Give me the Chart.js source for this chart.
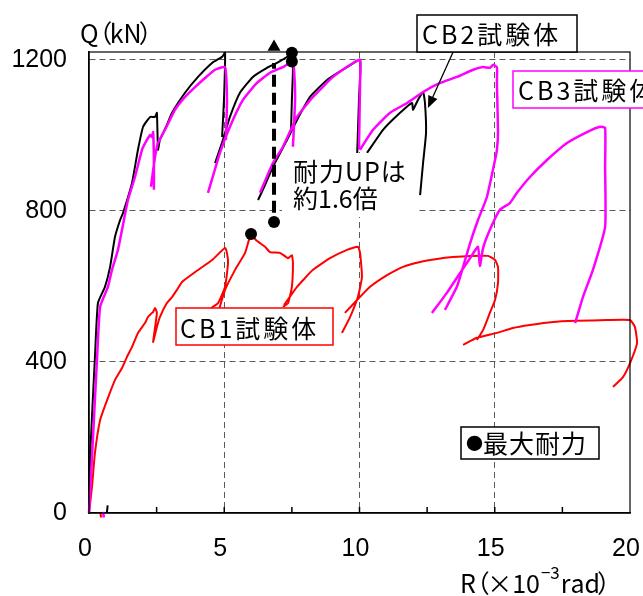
<!DOCTYPE html>
<html>
<head>
<meta charset="utf-8">
<script src="https://cdn.jsdelivr.net/npm/chart.js@4.4.1/dist/chart.umd.min.js"></script>
<style>
  html, body { margin: 0; padding: 0; background: #fff; }
</style>
</head>
<body>
<canvas id="loadChart" width="643" height="596"></canvas>
<script>
// axis ticks
const xTicks = [0, 5, 10, 15, 20];
const xMinor = [2.5, 5, 7.5, 10, 12.5, 15, 17.5];
const yTicks = [0, 400, 800, 1200];

// R (x10^-3 rad), Q (kN) -- each inner list is one visible branch of the loop
const cb2Curve = [
    [[0, 0], [0.04, 148], [0.22, 413], [0.33, 556], [0.59, 599], [0.78, 652], [0.96, 731], [1.15, 776], [1.26, 795],
     [1.59, 874], [1.81, 962], [2.0, 1023], [2.26, 1049], [2.44, 1049], [2.51, 1060], [2.55, 962], [2.62, 988],
     [2.85, 1023], [3.07, 1060], [3.55, 1113], [4.03, 1155], [4.55, 1192], [4.92, 1208], [5.03, 1219], [4.99, 1094], [4.92, 996]],
    [[4.66, 927], [4.95, 988], [5.21, 1049], [5.58, 1113], [6.06, 1155], [6.58, 1179], [6.95, 1192], [7.43, 1213],
     [7.5, 1219], [7.54, 1174], [7.5, 1094], [7.47, 1015]],
    [[6.25, 829], [6.51, 869], [6.8, 917], [7.32, 988], [7.69, 1041], [8.17, 1102], [8.8, 1147], [9.54, 1181],
     [10.02, 1200], [9.98, 1094], [9.91, 943]],
    [[10.28, 954], [10.87, 1015], [11.5, 1060], [11.94, 1086], [11.98, 1068], [12.16, 1094], [12.35, 1115],
     [12.42, 1086], [12.46, 1007], [12.35, 927], [12.24, 842]],
    [[0.69, 20], [0.66, 0]]
];

const cb3Curve = [
    [[0, 0], [0.11, 148], [0.3, 413], [0.41, 546], [0.7, 599], [0.85, 644], [1.07, 697], [1.22, 750], [1.44, 829],
     [1.7, 890], [1.96, 962], [2.14, 988], [2.26, 1001], [2.33, 996], [2.37, 1009], [2.4, 935], [2.4, 856]],
    [[2.29, 864], [2.44, 943], [2.55, 980], [2.81, 1015], [3.18, 1068], [3.55, 1102], [3.92, 1128], [4.29, 1152],
     [4.66, 1174], [5.03, 1181], [5.1, 1094], [5.06, 988]],
    [[4.4, 848], [4.84, 954], [5.21, 1023], [5.69, 1094], [6.21, 1139], [6.69, 1166], [7.17, 1181], [7.54, 1195],
     [7.62, 1102], [7.54, 970]],
    [[6.32, 848], [6.8, 927], [7.17, 970], [7.69, 1049], [8.28, 1102], [9.02, 1155], [9.76, 1192], [10.02, 1200],
     [10.02, 1139], [9.98, 962]],
    [[10.02, 962], [10.5, 1015], [11.13, 1060], [11.76, 1086], [12.35, 1115], [12.98, 1139], [13.6, 1155],
     [14.2, 1174], [14.57, 1181], [14.82, 1179], [14.94, 1187], [15.08, 1181], [15.08, 1139], [15.12, 1007],
     [15.08, 962], [15.01, 935], [14.71, 837], [14.38, 776], [14.09, 715], [13.83, 652], [13.6, 599], [13.16, 538]],
    [[12.68, 530], [13.23, 583], [13.72, 636], [14.09, 675], [14.38, 705], [14.45, 654], [14.57, 702], [14.82, 750],
     [15.19, 803], [15.56, 821], [15.82, 848], [16.3, 890], [16.93, 935], [17.67, 980], [18.41, 1009], [18.89, 1023],
     [19.08, 1020], [19.08, 917], [19.08, 758], [18.63, 644], [18.26, 572], [17.97, 503]],
    [[0.52, 3], [0.55, -12]]
];

const cb1Curve = [
    [[0, 0], [0.11, 69], [0.22, 159], [0.41, 246], [0.67, 299], [0.96, 352], [1.22, 384], [1.4, 413], [1.59, 440],
     [1.81, 477], [2.07, 503], [2.18, 519], [2.33, 530], [2.37, 532], [2.44, 543], [2.51, 530], [2.37, 453],
     [2.51, 493], [2.62, 519], [2.88, 556], [3.07, 572], [3.25, 591], [3.44, 612], [3.92, 638], [4.55, 670],
     [5.03, 702], [5.1, 689], [5.14, 662], [5.03, 599], [4.77, 556], [4.51, 543]],
    [[4.81, 540], [5.03, 591], [5.4, 644], [5.77, 689], [5.99, 739], [6.17, 723], [6.51, 705], [6.69, 691],
     [7.06, 689], [7.36, 675], [7.5, 683], [7.54, 662], [7.5, 599], [7.36, 556], [7.17, 546]],
    [[7.21, 551], [7.69, 599], [8.28, 644], [8.91, 675], [9.54, 697], [9.94, 705], [10.02, 689], [10.09, 625],
     [9.94, 572], [9.65, 519], [9.35, 477]],
    [[9.46, 530], [9.91, 564], [10.39, 599], [11.02, 630], [11.61, 652], [12.24, 665], [12.87, 673], [13.46, 678],
     [14.09, 681], [14.75, 681], [15.01, 670], [15.12, 652], [15.12, 609], [15.01, 564], [14.82, 530], [14.57, 485],
     [14.34, 458]],
    [[13.83, 445], [14.34, 464], [15.08, 477], [15.67, 490], [16.3, 498], [17.15, 506], [18.04, 509], [19.15, 511],
     [20.0, 511], [20.18, 493], [20.26, 450], [20.0, 397], [19.74, 360], [19.37, 334]],
    [[0.42, 0], [0.45, -12]]
];

// 最大耐力 markers and the "耐力UP" arrow
const maxPoints = [[7.5, 1219], [7.5, 1196], [5.99, 739]];
const upBase = [6.84, 771];
const upLine = [[6.84, 795], [6.84, 1192]];
const upTip = [6.84, 1234];

const toPts = (segs) => segs.flatMap(s =>
    s.map(([x, y]) => ({x, y})).concat([{x: s[s.length - 1][0], y: null}]));
const xy = (arr) => arr.map(([x, y]) => ({x, y}));

const JP = '"Noto Sans CJK JP", "Noto Sans", sans-serif';

// draw text char by char, narrowing full width brackets
function drawChars(ctx, text, x, y, spacing) {
    for (const ch of text) {
        const w = ctx.measureText(ch).width;
        if (ch === '（') {
            ctx.fillText(ch, x - w * 0.45, y);
            x += w * 0.45 + spacing;
        } else if (ch === '）') {
            ctx.fillText(ch, x - w * 0.12, y);
            x += w * 0.42 + spacing;
        } else {
            ctx.fillText(ch, x, y);
            x += w + spacing;
        }
    }
    return x;
}

function labelBox(ctx, text, bx, by, bw, bh, color, tx, ty, spacing) {
    ctx.fillStyle = '#fff';
    ctx.fillRect(bx, by, bw, bh);
    ctx.strokeStyle = color;
    ctx.lineWidth = 1.5;
    ctx.strokeRect(bx, by, bw, bh);
    ctx.fillStyle = '#000';
    return drawChars(ctx, text, tx, ty, spacing);
}

const notes = {
    id: 'notes',
    afterDraw(chart) {
        const {ctx, chartArea: a, scales: {x, y}} = chart;
        ctx.save();

        // plot frame
        ctx.strokeStyle = '#000';
        ctx.lineWidth = 1.2;
        ctx.strokeRect(a.left, a.top, a.right - a.left, a.bottom - a.top);

        // inner tick marks on the R axis
        ctx.lineWidth = 1.5;
        ctx.beginPath();
        xMinor.forEach(v => {
            const px = x.getPixelForValue(v);
            ctx.moveTo(px, a.bottom);
            ctx.lineTo(px, a.bottom - 6);
        });
        ctx.stroke();

        ctx.textBaseline = 'middle';
        ctx.textAlign = 'left';
        ctx.font = '25px ' + JP;
        ctx.fillStyle = '#000';

        // axis titles
        drawChars(ctx, 'Q（kN）', 80, 33, 0);
        let cx = drawChars(ctx, 'R（×10', 460, 583, 0);
        ctx.font = '17px ' + JP;
        cx = drawChars(ctx, '−3', cx + 1, 573, 0);
        ctx.font = '25px ' + JP;
        drawChars(ctx, 'rad）', cx + 1, 583, 0);

        // 耐力UP note
        ctx.fillStyle = '#fff';
        ctx.fillRect(282, 153, 136, 64);
        ctx.fillStyle = '#000';
        drawChars(ctx, '耐力UPは', 293, 171, 1);
        drawChars(ctx, '約1.6倍', 293, 198, 0);

        // specimen labels
        labelBox(ctx, 'CB2試験体', 417, 15, 160, 37, '#000', 422, 34, 3);
        labelBox(ctx, 'CB3試験体', 513, 71, 140, 37, '#ff00ff', 518, 90, 3);
        labelBox(ctx, 'CB1試験体', 176, 308, 157, 37, '#ff0000', 180, 328, 3);

        // legend box for the markers
        ctx.fillStyle = '#fff';
        ctx.fillRect(461, 427, 138, 32);
        ctx.strokeStyle = '#000';
        ctx.lineWidth = 1.5;
        ctx.strokeRect(461, 427, 138, 32);
        ctx.fillStyle = '#000';
        ctx.font = '17px ' + JP;
        cx = drawChars(ctx, '●', 466, 444, 0);
        ctx.font = '25px ' + JP;
        drawChars(ctx, '最大耐力', cx, 443, 1);

        // leader arrow from the CB2 label
        const p0 = [x.getPixelForValue(13.46), y.getPixelForValue(1221)];
        const p1 = [x.getPixelForValue(12.53), y.getPixelForValue(1073)];
        const ang = Math.atan2(p1[1] - p0[1], p1[0] - p0[0]);
        ctx.strokeStyle = '#000';
        ctx.lineWidth = 1.3;
        ctx.beginPath();
        ctx.moveTo(p0[0], p0[1]);
        ctx.lineTo(p1[0] - Math.cos(ang) * 8, p1[1] - Math.sin(ang) * 8);
        ctx.stroke();
        ctx.fillStyle = '#000';
        ctx.beginPath();
        ctx.moveTo(p1[0], p1[1]);
        ctx.lineTo(p1[0] - Math.cos(ang) * 12 + Math.sin(ang) * 5, p1[1] - Math.sin(ang) * 12 - Math.cos(ang) * 5);
        ctx.lineTo(p1[0] - Math.cos(ang) * 12 - Math.sin(ang) * 5, p1[1] - Math.sin(ang) * 12 + Math.cos(ang) * 5);
        ctx.closePath();
        ctx.fill();

        ctx.restore();
    }
};

const curve = (label, data, color, width) => ({
    label, data, showLine: true, borderColor: color, backgroundColor: color,
    borderWidth: width, pointRadius: 0, tension: 0.15, spanGaps: false, clip: 12
});

const ctx = document.querySelector('#loadChart').getContext('2d');

new Chart(ctx, {
    type: 'scatter',
    data: {
        datasets: [
            {
                label: '最大耐力',
                data: xy(maxPoints.concat([upBase])),
                pointRadius: 6, pointHoverRadius: 6,
                backgroundColor: '#000', borderColor: '#000', borderWidth: 0,
                showLine: false, clip: false
            },
            {
                label: 'tip',
                data: xy([upTip]),
                pointStyle: 'triangle', pointRadius: 7.5,
                backgroundColor: '#000', borderColor: '#000', borderWidth: 0,
                showLine: false, clip: false
            },
            {
                label: 'up',
                data: xy(upLine),
                showLine: true, borderColor: '#000', borderWidth: 4,
                borderDash: [12, 6], pointRadius: 0
            },
            curve('CB3試験体', toPts(cb3Curve), '#ff00ff', 2.5),
            curve('CB1試験体', toPts(cb1Curve), '#ff0000', 2),
            curve('CB2試験体', toPts(cb2Curve), '#000000', 2)
        ]
    },
    options: {
        responsive: false,
        animation: false,
        devicePixelRatio: 1,
        layout: {padding: {top: 52, right: 13, left: 0, bottom: 0}},
        plugins: {legend: {display: false}, tooltip: {enabled: false}},
        scales: {
            x: {
                type: 'linear', min: 0, max: 20,
                afterBuildTicks: (s) => { s.ticks = xTicks.map(v => ({value: v})); },
                afterFit: (s) => { s.height = 83; s.paddingLeft = 0; s.paddingRight = 0; },
                grid: {
                    color: (c) => (c.tick && c.tick.value > 0 && c.tick.value < 20) ? '#5a5a5a' : 'rgba(0,0,0,0)',
                    lineWidth: 1,
                    drawTicks: false
                },
                border: {color: '#000', width: 1.5, dash: [6, 4]},
                ticks: {
                    color: '#000', padding: 21, labelOffset: -4, maxRotation: 0, autoSkip: false,
                    font: {family: 'Liberation Sans', size: 25},
                    callback: (v) => String(v)
                }
            },
            y: {
                type: 'linear', min: 0, max: 1221,
                afterBuildTicks: (s) => { s.ticks = yTicks.map(v => ({value: v})); },
                afterFit: (s) => { s.width = 89; s.paddingTop = 0; s.paddingBottom = 0; },
                grid: {
                    color: (c) => (c.tick && c.tick.value > 0) ? '#5a5a5a' : 'rgba(0,0,0,0)',
                    lineWidth: 1,
                    drawTicks: false
                },
                border: {color: '#000', width: 1.5, dash: [6, 4]},
                ticks: {
                    color: '#000', padding: 22,
                    font: {family: 'Liberation Sans', size: 25},
                    callback: (v) => String(v)
                }
            }
        }
    },
    plugins: [notes]
});
</script>
</body>
</html>
